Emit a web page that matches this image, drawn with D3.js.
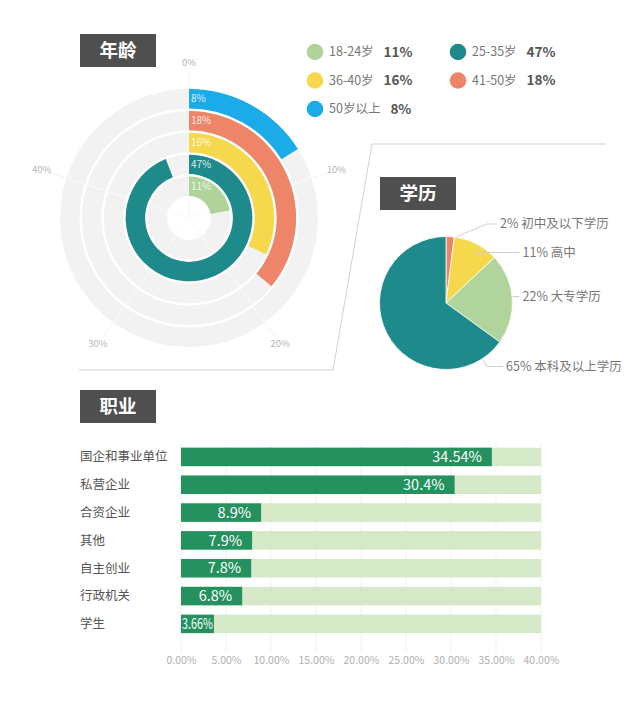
<!DOCTYPE html>
<html>
<head>
<meta charset="utf-8">
<script src="https://cdn.jsdelivr.net/npm/d3@7"></script>
<style>
  html, body { margin: 0; padding: 0; background: #fff; }
  svg { display: block; font-family: "Noto Sans CJK SC", "Noto Sans", sans-serif; }
</style>
</head>
<body>
<svg id="chart" width="640" height="710"></svg>
<script>
// ---------------- data ----------------
const ageLabels = ["18-24岁", "25-35岁", "36-40岁", "41-50岁", "50岁以上"];
const ageValues = [11, 47, 16, 18, 8];
const ageColors = ["#afd398", "#1f8a8b", "#f6d84c", "#ee8468", "#1aabe8"];
const ageTicks = [0, 10, 20, 30, 40];

const eduLabels = ["初中及以下学历", "高中", "大专学历", "本科及以上学历"];
const eduValues = [2, 11, 22, 65];
const eduColors = ["#ec8468", "#f6d84c", "#b0d49c", "#1f8a8b"];

const jobLabels = ["国企和事业单位", "私营企业", "合资企业", "其他", "自主创业", "行政机关", "学生"];
const jobValues = [34.54, 30.4, 8.9, 7.9, 7.8, 6.8, 3.66];
const jobTicks = [0, 0.05, 0.10, 0.15, 0.20, 0.25, 0.30, 0.35, 0.40];

// ---------------- layout ----------------
const svg = d3.select("#chart");
const TITLE_FILL = "#4f4f4f";

function titleBox(x, y, text) {
  svg.append("rect").attr("x", x).attr("y", y).attr("width", 76).attr("height", 33).attr("fill", TITLE_FILL);
  svg.append("text").attr("x", x + 38).attr("y", y + 16.5).attr("dy", "0.36em")
    .attr("text-anchor", "middle").attr("fill", "#fff").attr("font-size", 18.5).attr("font-weight", "bold")
    .text(text);
}

// divider line
svg.append("path")
  .attr("d", d3.line()([[606, 144], [372, 144], [333, 370], [79, 370]]))
  .attr("fill", "none").attr("stroke", "#d0d0d0").attr("stroke-width", 1);

// ---------------- radial bar (年龄) ----------------
titleBox(80, 34, "年龄");
const cx = 189, cy = 218;
const g = svg.append("g").attr("transform", `translate(${cx},${cy})`);
const ang = d3.scaleLinear().domain([0, 50]).range([0, 2 * Math.PI]);
const rad = d3.scaleBand().domain(ageLabels).range([22, 129]).paddingInner(0.11);

// faint spokes outside
ageTicks.forEach(t => {
  const a = ang(t);
  g.append("line")
    .attr("x1", 0).attr("y1", 0)
    .attr("x2", 146 * Math.sin(a)).attr("y2", -146 * Math.cos(a))
    .attr("stroke", "#f2f2f2").attr("stroke-width", 1);
});
// gray tracks
const arc = d3.arc();
ageLabels.forEach(l => {
  g.append("path").attr("d", arc({innerRadius: rad(l), outerRadius: rad(l) + rad.bandwidth(), startAngle: 0, endAngle: 2 * Math.PI}))
    .attr("fill", "#f2f2f2");
});
// white spokes across tracks
ageTicks.forEach(t => {
  const a = ang(t);
  g.append("line")
    .attr("x1", 0).attr("y1", 0)
    .attr("x2", 129 * Math.sin(a)).attr("y2", -129 * Math.cos(a))
    .attr("stroke", "#fff").attr("stroke-opacity", 0.7).attr("stroke-width", 1);
});
// colored arcs
ageLabels.forEach((l, i) => {
  g.append("path").attr("d", arc({innerRadius: rad(l), outerRadius: rad(l) + rad.bandwidth(), startAngle: 0, endAngle: ang(ageValues[i])}))
    .attr("fill", ageColors[i]);
  g.append("text").attr("x", 2).attr("y", -(rad(l) + rad.bandwidth() / 2)).attr("dy", "0.35em")
    .attr("fill", "#fff").attr("fill-opacity", 0.85).attr("font-size", 10)
    .text(ageValues[i] + "%");
});
// tick labels
ageTicks.forEach(t => {
  const a = ang(t);
  g.append("text")
    .attr("x", 155 * Math.sin(a)).attr("y", -155 * Math.cos(a)).attr("dy", "0.35em")
    .attr("text-anchor", "middle").attr("fill", "#b5b5b5").attr("font-size", 9.5)
    .text(t + "%");
});

// legend
const legCols = [315, 458], legRows = [52, 80.5, 109];
ageLabels.forEach((l, i) => {
  const x = legCols[i % 2], y = legRows[Math.floor(i / 2)];
  svg.append("circle").attr("cx", x).attr("cy", y).attr("r", 8.3).attr("fill", ageColors[i]);
  const t = svg.append("text").attr("x", x + 14).attr("y", y).attr("dy", "0.35em")
    .attr("fill", "#777").attr("font-size", 12.5).text(l);
  const w = t.node().getComputedTextLength();
  svg.append("text").attr("x", x + 14 + w + 10).attr("y", y).attr("dy", "0.35em")
    .attr("fill", "#555").attr("font-size", 13.5).attr("font-weight", "bold").text(ageValues[i] + "%");
});

// ---------------- pie (学历) ----------------
titleBox(380, 177, "学历");
const pcx = 446, pcy = 303, pr = 66.5;
const pg = svg.append("g").attr("transform", `translate(${pcx},${pcy})`);
const pie = d3.pie().sort(null).value(d => d)(eduValues);
const parc = d3.arc().innerRadius(0).outerRadius(pr);
pg.selectAll("path.slice").data(pie).join("path").attr("class", "slice")
  .attr("d", parc).attr("fill", (d, i) => eduColors[i])
  .attr("stroke", "#fff").attr("stroke-width", 0.8);

// label layout: leader start angle (deg), start radius, text position
const eduLabelLayout = [
  {a: 9, r: 67, elbow: [487, 224], tx: 500, ty: 224},
  {a: 30, r: 57, elbow: [486, 252.5], tx: 522.5, ty: 252.5},
  {a: 84, r: 67, elbow: [513, 296.5], tx: 522.5, ty: 296.5},
  {a: 147, r: 67, elbow: [487, 366.5], tx: 506, ty: 366.5}
];
eduLabels.forEach((l, i) => {
  const L = eduLabelLayout[i];
  const a = L.a * Math.PI / 180;
  const sx = pcx + L.r * Math.sin(a), sy = pcy - L.r * Math.cos(a);
  svg.append("path").attr("d", d3.line()([[sx, sy], L.elbow, [L.tx - 3, L.ty]]))
    .attr("fill", "none").attr("stroke", "#cfcfcf").attr("stroke-width", 1);
  svg.append("text").attr("x", L.tx).attr("y", L.ty).attr("dy", "0.35em")
    .attr("fill", "#777").attr("font-size", 12.5)
    .text(eduValues[i] + "% " + l);
});

// ---------------- bars (职业) ----------------
titleBox(80, 390, "职业");
const x = d3.scaleLinear().domain([0, 0.40]).range([181, 541]);
const y = d3.scaleBand().domain(jobLabels).range([443, 637.8]).paddingInner(0.335).paddingOuter(0.1675);

// gridlines
svg.append("g").selectAll("line").data(jobTicks).join("line")
  .attr("x1", d => x(d)).attr("x2", d => x(d)).attr("y1", 443).attr("y2", 652)
  .attr("stroke", "#f1f1f1").attr("stroke-width", 1);

svg.append("g").selectAll("rect").data(jobLabels).join("rect")
  .attr("x", x(0)).attr("y", d => y(d)).attr("width", x(0.40) - x(0)).attr("height", y.bandwidth())
  .attr("fill", "#d5e9c9");
svg.append("g").selectAll("rect").data(jobLabels).join("rect")
  .attr("x", x(0)).attr("y", d => y(d)).attr("width", (d, i) => x(jobValues[i] / 100) - x(0)).attr("height", y.bandwidth())
  .attr("fill", "#25915f");

jobLabels.forEach((l, i) => {
  svg.append("text").attr("x", 80).attr("y", y(l) + y.bandwidth() / 2).attr("dy", "0.35em")
    .attr("fill", "#555").attr("font-size", 12.5).text(l);
  const end = x(jobValues[i] / 100);
  const t = svg.append("text").attr("x", end - 10).attr("y", y(l) + y.bandwidth() / 2).attr("dy", "0.36em")
    .attr("text-anchor", "end").attr("fill", "#fff").attr("font-size", 14.5).text(jobValues[i] + "%");
  const w = t.node().getComputedTextLength();
  if (end - 10 - w < x(0) + 1) {
    t.attr("text-anchor", "start").attr("x", x(0) + 1)
      .attr("textLength", end - x(0) - 2).attr("lengthAdjust", "spacingAndGlyphs");
  }
});

// axis
const axis = d3.axisBottom(x).tickValues(jobTicks).tickFormat(d3.format(".2%")).tickSize(0).tickPadding(0);
const ax = svg.append("g").attr("transform", "translate(0,657)").call(axis);
ax.select(".domain").remove();
ax.selectAll("text").attr("fill", "#b0b0b0").attr("font-size", 10.5)
  .attr("font-family", '"Noto Sans CJK SC", sans-serif');
</script>
</body>
</html>
